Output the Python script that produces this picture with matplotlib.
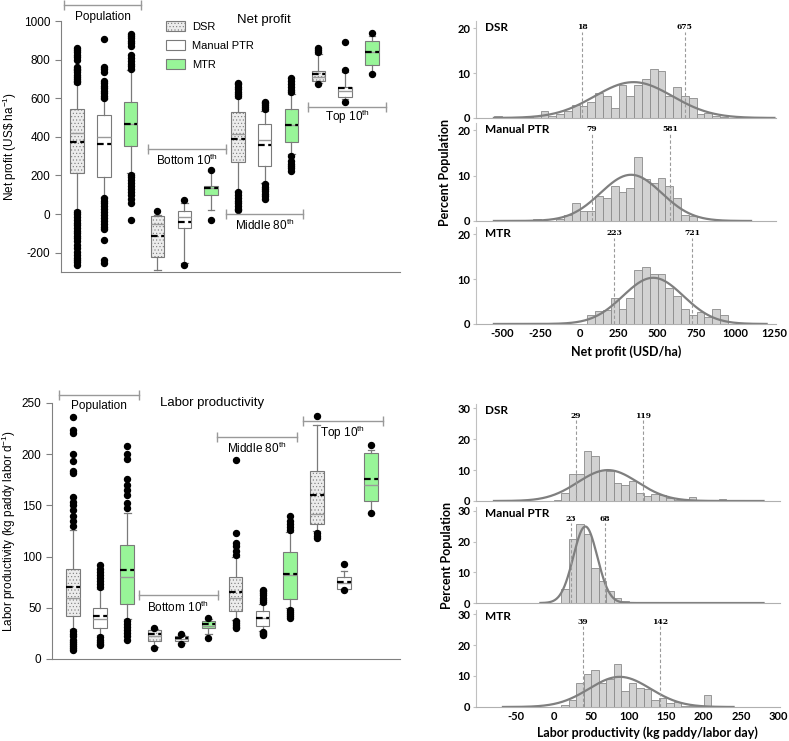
import numpy as np
import matplotlib
matplotlib.use("Agg")
import matplotlib.pyplot as plt
from matplotlib.patches import Patch

plt.rcParams['font.family'] = ['Liberation Sans', 'DejaVu Sans']
plt.rcParams['mathtext.default'] = 'regular'
plt.rcParams['hatch.linewidth'] = 0.4
plt.rcParams['axes.unicode_minus'] = False

# box order: Population (DSR, PTR, MTR), Bottom 10th, Middle 80th, Top 10th
box_pos = list(range(1, 13))

# ---- net profit (US$/ha) boxes ----
np_q1 = [211, 190, 354, -221, -71, 98, 268, 250, 375, 689, 608, 772]
np_med = [421, 397, 467, -52, -17, 133, 413, 383, 461, 712, 639, 838]
np_q3 = [547, 513, 579, -10, 17, 147, 530, 465, 542, 741, 656, 898]
np_mean = [375, 363, 467, -114, -40, 133, 387, 357, 461, 725, 651, 838]
np_lo = [21, 90, 211, -287, -255, 21, 119, 162, 310, 680, 595, 730]
np_hi = [674, 594, 746, -5, 55, 222, 603, 535, 620, 827, 735, 925]
np_fliers = [
    [683, 692, 700, 710, 722, 735, 745, 752, 760, 800, 812, 825, 838, 848, 860,
     12, 0, -15, -30, -45, -55, -70, -85, -100, -115, -125, -140, -160, -175,
     -195, -210, -225, -240, -250, -262],
    [600, 612, 625, 640, 655, 665, 680, 690, 735, 750, 762, 905,
     85, 70, 55, 40, 25, 10, -5, -20, -35, -50, -65, -75, -135, -240, -252],
    [750, 765, 780, 795, 810, 825, 870, 885, 898, 910, 922, 932,
     205, 190, 175, 160, 145, 130, 115, 100, 80, 60, -30],
    [17],
    [72, -265],
    [228, -31],
    [610, 622, 635, 648, 660, 672, 680, 115, 100, 85, 70, 55, 40, 28, 20],
    [545, 555, 565, 575, 583, 155, 142, 130, 118, 105, 92, 80],
    [630, 645, 660, 675, 690, 705, 300, 275, 262, 250, 238, 225],
    [838, 848, 858, 676],
    [746, 893, 583],
    [936, 725],
]

# ---- labor productivity (kg paddy/labor day) boxes ----
lp_q1 = [42, 30, 54, 18, 18, 30, 46.5, 32, 58.5, 131.5, 68, 154.6]
lp_med = [60, 39, 80, 22, 19.5, 32.5, 60, 40, 82, 142, 74, 170]
lp_q3 = [88, 50, 111, 28, 22, 37, 80, 47, 104, 184, 80, 201]
lp_mean = [70, 42, 87, 24, 20.5, 34, 65, 40, 83, 160, 75, 176]
lp_lo = [29, 23, 39, 12, 16, 24, 38.5, 27, 50, 125, 67, 143]
lp_hi = [126, 68, 143, 29.5, 23, 39, 100, 54, 124, 228.5, 85.6, 204]
lp_fliers = [
    [130, 135, 140, 145, 150, 153, 158, 182, 184, 193, 200, 221, 224, 236,
     27, 24, 22, 19, 17, 15, 13, 11, 9],
    [70, 73, 76, 79, 82, 85, 88, 92, 21, 19, 17, 15, 14],
    [147, 152, 160, 165, 170, 176, 195, 200, 208, 37, 34, 31, 28, 25, 22, 19],
    [30, 10.5],
    [24, 15],
    [40, 20],
    [102, 105, 110, 113, 123, 194, 37, 35, 33, 31, 30],
    [56, 58, 60, 62, 64, 66, 67, 26, 25, 24, 23],
    [126, 129, 132, 135, 140, 48, 46, 44, 42, 40],
    [237, 123, 120, 118],
    [92.8, 67],
    [208.7, 143],
]

# ---- histograms: percent population per bin ----
np_bin0, np_binw = -550, 50
dsr_np_hist = [0.5, 0, 0, 0, 0.3, 0.4, 1.6, 0.5, 0.8, 1.6, 2.8, 2.6, 3.6, 5.5, 4.9,
               2.3, 7.3, 4.9, 7.3, 8.7, 10.8, 10.4, 4.9, 6.8, 4.9, 4.5, 0.9, 1.1, 0.5, 0.3]
ptr_np_hist = [0, 0, 0, 0, 0, 0.5, 0, 0, 0.4, 1.4, 3.9, 2.1, 2.3, 5.5, 5.1,
               7.6, 6.3, 7.3, 14.2, 9.3, 8.3, 9.5, 7.7, 5.0, 1.4, 1.0, 0, 0, 0, 0]
mtr_np_hist = [0, 0, 0, 0, 0, 0, 0, 0, 0, 0, 0, 0, 2.1, 2.8, 3.2,
               5.7, 3.3, 5.7, 12.0, 12.6, 11.2, 11.2, 7.9, 6.3, 3.3, 2.0, 2.7, 1.6, 3.3, 2.0]
lp_bin0, lp_binw = 0, 10
dsr_lp_hist = [0.4, 2.5, 8.6, 8.8, 16.2, 14.4, 10.0, 9.7, 5.7, 5.2, 6.5, 2.5, 1.5,
               2.2, 1.9, 0.9, 0.4, 0.2, 1.4, 0, 0.4, 0, 0.7, 0.4, 0, 0.4]
ptr_lp_hist = [0, 4.7, 21.0, 25.9, 22.4, 11.5, 7.1, 3.8, 1.6, 0.5]
mtr_lp_hist = [0, 0.8, 2.4, 7.8, 10.8, 11.8, 7.8, 8.9, 13.8, 5.1, 7.8, 6.1, 5.8,
               2.4, 2.9, 1.3, 1.7, 0.4, 0.2, 0.4, 3.9]

# fitted normal curves: mean, sd, x-range
np_fits = [(346, 250, -550, 1250), (330, 196, -550, 1100), (472, 194, -550, 1200)]
lp_fits = [(72, 40, -80, 280), (42, 16, -18, 280), (88, 41, -68, 240)]
# 10th / 90th percentile markers
np_pct = [(18, 675), (79, 581), (223, 721)]
lp_pct = [(29, 119), (23, 68), (39, 142)]

faces = ['#ececec', 'white', '#98f598'] * 4
hatches = ['.....', '', ''] * 4


def box_panel(ax, q1, med, q3, mean, lo, hi, fliers):
    stats = []
    for i in range(12):
        stats.append(dict(q1=q1[i], med=med[i], q3=q3[i], mean=mean[i],
                          whislo=lo[i], whishi=hi[i], fliers=fliers[i]))
    res = ax.bxp(stats, positions=box_pos, widths=0.5, patch_artist=True,
                 showmeans=True, meanline=True,
                 boxprops=dict(edgecolor='#7a7a7a', linewidth=0.8),
                 medianprops=dict(color='#9a9a9a', linewidth=1.0),
                 meanprops=dict(color='black', linestyle=(0, (3, 1.6)), linewidth=1.6),
                 whiskerprops=dict(color='#7a7a7a', linewidth=0.9),
                 capprops=dict(color='#7a7a7a', linewidth=0.9),
                 flierprops=dict(marker='o', markerfacecolor='black',
                                 markeredgecolor='black', markersize=4.3))
    for b, fc, h in zip(res['boxes'], faces, hatches):
        b.set_facecolor(fc)
        b.set_hatch(h)
    ax.spines['top'].set_visible(False)
    ax.spines['right'].set_visible(False)
    ax.spines['left'].set_color('#808080')
    ax.spines['bottom'].set_color('#808080')
    ax.set_xticks([])
    ax.tick_params(axis='y', direction='out', length=4, color='#808080', labelsize=8.5)


def bracket(ax, x0, x1, y, label, ty):
    ax.plot([x0, x1], [y, y], color='#999999', lw=1, marker='|', markersize=7,
            clip_on=False)
    ax.text((x0 + x1) / 2, ty, label, ha='center', va='center', fontsize=8.5)


fig = plt.figure(figsize=(7.89, 7.41), dpi=100)

# ---------- net profit box plot ----------
ax1 = fig.add_axes([0.0773, 0.6329, 0.4297, 0.3387])
box_panel(ax1, np_q1, np_med, np_q3, np_mean, np_lo, np_hi, np_fliers)
ax1.set_xlim(0.4, 13.05)
ax1.set_ylim(-300, 1000)
ax1.set_yticks([-200, 0, 200, 400, 600, 800, 1000])
ax1.set_ylabel('Net profit (US\\$ ha$^{-1}$)', fontsize=8.5)
ax1.yaxis.set_label_coords(-0.124, 0.5)
bracket(ax1, 0.51, 3.39, 1083, 'Population', 1021)
bracket(ax1, 3.65, 6.56, 337, 'Bottom 10$^{th}$', 280)
bracket(ax1, 6.56, 9.43, 0, 'Middle 80$^{th}$', -57)
bracket(ax1, 9.62, 12.53, 556, 'Top 10$^{th}$', 504)
ax1.text(7.98, 1005, 'Net profit', ha='center', va='center', fontsize=9.5)
handles = [Patch(facecolor=faces[i], edgecolor='#7a7a7a', hatch=hatches[i], lw=0.8)
           for i in range(3)]
ax1.legend(handles, ['DSR', 'Manual PTR', 'MTR'], loc='upper left',
           bbox_to_anchor=(0.31, 1.0), frameon=False, fontsize=8,
           handlelength=1.7, handleheight=1.0, labelspacing=0.75,
           handletextpad=0.6, borderpad=0, borderaxespad=0)

# ---------- labor productivity box plot ----------
ax2 = fig.add_axes([0.0659, 0.1107, 0.4411, 0.3455])
box_panel(ax2, lp_q1, lp_med, lp_q3, lp_mean, lp_lo, lp_hi, lp_fliers)
ax2.set_xlim(0.225, 13.07)
ax2.set_ylim(0, 250)
ax2.set_yticks([0, 50, 100, 150, 200, 250])
ax2.set_ylabel('Labor productivity (kg paddy labor d$^{-1}$)', fontsize=8.5)
ax2.yaxis.set_label_coords(-0.098, 0.5)
bracket(ax2, 0.48, 3.44, 258, 'Population', 247)
bracket(ax2, 3.44, 6.35, 62, 'Bottom 10$^{th}$', 50)
bracket(ax2, 6.31, 9.27, 217, 'Middle 80$^{th}$', 206)
bracket(ax2, 9.49, 12.44, 232, 'Top 10$^{th}$', 221)
ax2.text(6.13, 250, 'Labor productivity', ha='center', va='center', fontsize=9.5)


# ---------- histograms ----------
def hist_panel(rect, heights, b0, bw, fit, pct, name, xlim, ylim, yticks, lab_y,
               line_top, show_x, xticks):
    ax = fig.add_axes(rect)
    lefts = [b0 + bw * i for i in range(len(heights))]
    ax.bar(lefts, heights, width=bw, align='edge', color='#d2d2d2',
           edgecolor='#8a8a8a', linewidth=0.6)
    m, s, x0, x1 = fit
    xs = np.linspace(x0, x1, 400)
    ax.plot(xs, 100 * bw * np.exp(-0.5 * ((xs - m) / s) ** 2) / (s * np.sqrt(2 * np.pi)),
            color='#7f7f7f', lw=1.6)
    for p in pct:
        ax.plot([p, p], [0, line_top], color='#9a9a9a', lw=0.8, ls=(0, (3, 2)))
        ax.text(p, lab_y, str(p), ha='center', va='center', fontsize=5.5,
                fontweight='bold', family='DejaVu Serif')
    ax.text(0.03, 0.93, name, transform=ax.transAxes, ha='left', va='center',
            fontsize=8.5, fontweight='bold', family='Lato')
    ax.set_xlim(*xlim)
    ax.set_ylim(*ylim)
    ax.set_yticks(yticks)
    ax.set_xticks(xticks)
    for sp in ['top', 'right']:
        ax.spines[sp].set_visible(False)
    ax.spines['left'].set_color('#c0c0c0')
    ax.spines['bottom'].set_color('#b0b0b0')
    ax.tick_params(axis='x', length=0, labelsize=8, pad=3)
    ax.tick_params(axis='y', length=2, color='#c0c0c0', labelsize=8, pad=2)
    for t in ax.get_xticklabels() + ax.get_yticklabels():
        t.set_family('Lato')
        t.set_fontweight('bold')
    if not show_x:
        ax.set_xticklabels([])
    return ax


np_xt = [-500, -250, 0, 250, 500, 750, 1000, 1250]
lp_xt = [-50, 0, 50, 100, 150, 200, 250, 300]
np_rects = [[0.6033, 0.8408, 0.3802, 0.1309], [0.6033, 0.7018, 0.3802, 0.1323],
            [0.6033, 0.5628, 0.3802, 0.1309]]
lp_rects = [[0.6033, 0.3239, 0.3853, 0.1309], [0.6033, 0.1862, 0.3853, 0.1296],
            [0.6033, 0.0459, 0.3853, 0.1309]]
np_hists = [dsr_np_hist, ptr_np_hist, mtr_np_hist]
lp_hists = [dsr_lp_hist, ptr_lp_hist, mtr_lp_hist]
names = ['DSR', 'Manual PTR', 'MTR']

for i in range(3):
    hist_panel(np_rects[i], np_hists[i], np_bin0, np_binw, np_fits[i], np_pct[i],
               names[i], (-665, 1260), (0, 21.6), [0, 10, 20], 20.2, 19.2,
               i == 2, np_xt)
    hist_panel(lp_rects[i], lp_hists[i], lp_bin0, lp_binw, lp_fits[i], lp_pct[i],
               names[i], (-104, 302), (0, 31.3), [0, 10, 20, 30], 27.5, 26,
               i == 2, lp_xt)

fig.text(445 / 789, 1 - 172 / 741, 'Percent Population', rotation=90, ha='center',
         va='center', fontsize=9, fontweight='bold', family='Lato')
fig.text(447 / 789, 1 - 555 / 741, 'Percent Population', rotation=90, ha='center',
         va='center', fontsize=9, fontweight='bold', family='Lato')
fig.text(626 / 789, 1 - 352 / 741, 'Net profit (USD/ha)', ha='center', va='center',
         fontsize=9, fontweight='bold', family='Lato')
fig.text(647 / 789, 1 - 733 / 741, 'Labor productivity (kg paddy/labor day)',
         ha='center', va='center', fontsize=9, fontweight='bold', family='Lato')

fig.savefig('out.png', dpi=100)
